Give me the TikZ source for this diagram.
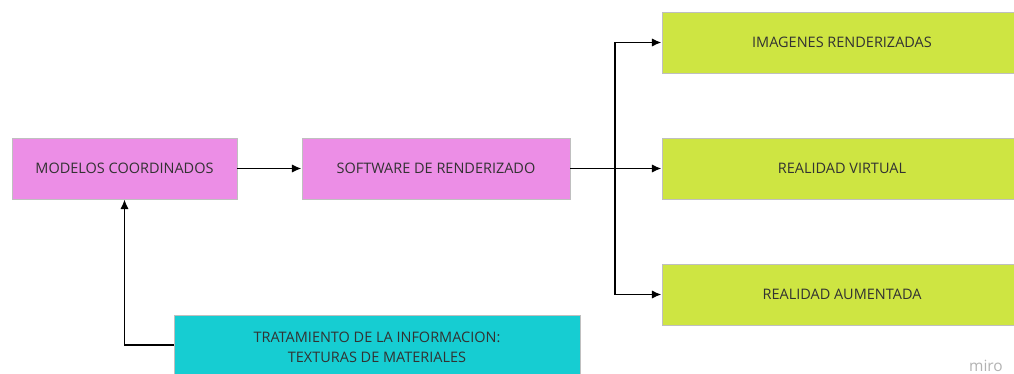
\documentclass[tikz,border=0pt]{standalone}
\usepackage{fontspec}
\setmainfont{Open Sans}
\usetikzlibrary{arrows.meta}
\definecolor{rosa}{RGB}{236,142,230}
\definecolor{lima}{RGB}{206,229,66}
\definecolor{turquesa}{RGB}{22,205,210}
\definecolor{texto}{RGB}{50,50,50}
\begin{document}
\begin{tikzpicture}[x=0.025cm,y=-0.025cm,
    caja/.style={draw=black!25,line width=0.4pt,inner sep=0pt,font=\fontsize{10.3}{14}\selectfont,text=texto,align=center},
    flecha/.style={draw,line width=1.4pt,-{Latex[length=7pt,width=6pt]}}]

        \useasboundingbox (0,0) rectangle (1014,374);
        \clip (0,0) rectangle (1014,374);

        \begin{scope}[every node/.style={caja}]
          \node[fill=rosa,minimum width=5.625cm,minimum height=1.525cm] (modelos)  at (124.5,168.5) {MODELOS COORDINADOS};
          \node[fill=rosa,minimum width=6.7cm,minimum height=1.525cm] (software) at (436,168.5) {SOFTWARE DE RENDERIZADO};
          \node[fill=lima,minimum width=9cm,minimum height=1.525cm] (imagenes) at (842,42.5) {IMAGENES RENDERIZADAS};
          \node[fill=lima,minimum width=9cm,minimum height=1.525cm] (virtual)  at (842,168.5) {REALIDAD VIRTUAL};
          \node[fill=lima,minimum width=9cm,minimum height=1.525cm] (aumentada) at (842,294.5) {REALIDAD AUMENTADA};
          \node[fill=turquesa,minimum width=10.15cm,minimum height=1.6cm] (tratamiento) at (377,347) {TRATAMIENTO DE LA INFORMACION:\\TEXTURAS DE MATERIALES};
        \end{scope}

        \node[text=black!30,font=\fontsize{11}{13}\selectfont] (miro) at (986,366) {miro};

        \coordinate (rama) at (615,168.5);
        \coordinate (esquina) at (124.5,345);

        \path (modelos) edge[flecha] (software);
        \draw[line width=1.4pt] (software.east) -- (rama);
        \draw[flecha] (rama) |- (imagenes.west);
        \draw[flecha] (rama) -- (virtual.west);
        \draw[flecha] (rama) |- (aumentada.west);
        \draw[flecha] (tratamiento.west |- esquina) -- (esquina) -- (modelos.south);

      \end{tikzpicture}
\end{document}
